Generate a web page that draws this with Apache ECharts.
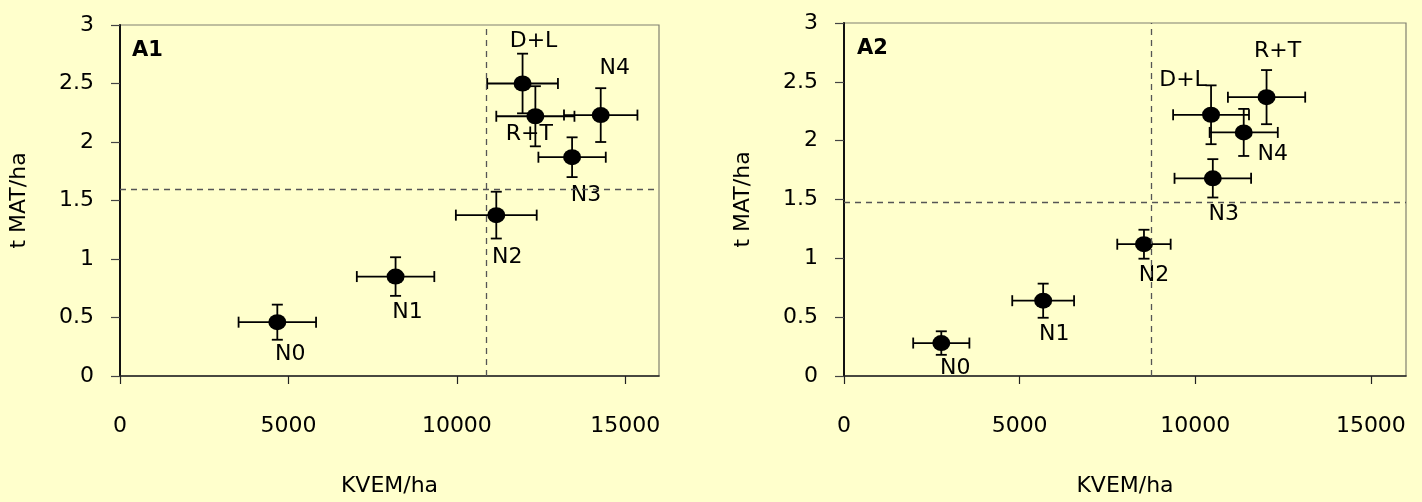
<!DOCTYPE html>
<html>
<head>
<meta charset="utf-8">
<script src="https://cdn.jsdelivr.net/npm/echarts@6/dist/echarts.min.js"></script>
<style>
html,body{margin:0;padding:0;background:#FFFFCC;}
#c{width:1422px;height:502px;}
</style>
</head>
<body>
<div id="c"></div>
<script>
// ---- data ----
const categories = ['N0', 'N1', 'N2', 'N3', 'N4', 'D+L', 'R+T'];

const a1X    = [4670, 8180, 11170, 13420, 14270, 11950, 12330];
const a1Y    = [0.46, 0.85, 1.375, 1.87, 2.23, 2.50, 2.22];
const a1XErr = [1150, 1150, 1200, 1000, 1090, 1050, 1160];
const a1YErr = [0.15, 0.165, 0.20, 0.17, 0.23, 0.255, 0.257];
const a1RefX = 10860;
const a1RefY = 1.605;

const a2X    = [2770, 5670, 8540, 10500, 11380, 10450, 12030];
const a2Y    = [0.28, 0.64, 1.12, 1.68, 2.07, 2.22, 2.37];
const a2XErr = [800, 880, 760, 1090, 970, 1080, 1100];
const a2YErr = [0.10, 0.145, 0.123, 0.163, 0.20, 0.25, 0.23];
const a2RefX = 8740;
const a2RefY = 1.475;

const xTickValues = [0, 5000, 10000, 15000];
const yTickValues = [0, 0.5, 1, 1.5, 2, 2.5, 3];
const panelTitles = ['A1', 'A2'];
const xName = 'KVEM/ha';
const yName = 't MAT/ha';

// ---- label placement (layout, not data) ----
const a1LabelOffsets = [[13, 32], [12, 36], [11, 42], [14, 38], [14, -47], [11, -42], [-6, 18]];
const a2LabelOffsets = [[14, 25], [11, 34], [10, 31], [11, 36], [29, 22], [-28, -34], [11, -46]];

const FONT = "'Comic Sans MS', 'DejaVu Sans', sans-serif";

function errData(xs, ys, exs, eys) {
  return xs.map((x, i) => [x, ys[i], exs[i], eys[i]]);
}
function ptData(xs, ys, offs) {
  return xs.map((x, i) => ({
    name: categories[i],
    value: [x, ys[i]],
    label: { offset: offs[i] }
  }));
}
function renderErr(params, api) {
  const x = api.value(0), y = api.value(1), ex = api.value(2), ey = api.value(3);
  const l = api.coord([x - ex, y]);
  const r = api.coord([x + ex, y]);
  const t = api.coord([x, y + ey]);
  const b = api.coord([x, y - ey]);
  const cap = 5.5;
  const st = { stroke: '#000', lineWidth: 1.8 };
  const ln = (x1, y1, x2, y2) => ({ type: 'line', shape: { x1, y1, x2, y2 }, style: st });
  return {
    type: 'group',
    children: [
      ln(l[0], l[1], r[0], r[1]),
      ln(l[0], l[1] - cap, l[0], l[1] + cap),
      ln(r[0], r[1] - cap, r[0], r[1] + cap),
      ln(t[0], t[1], b[0], b[1]),
      ln(t[0] - cap, t[1], t[0] + cap, t[1]),
      ln(b[0] - cap, b[1], b[0] + cap, b[1])
    ]
  };
}

const grids = [
  { left: 120, top: 25, width: 539, height: 359 },
  { left: 844, top: 23, width: 562, height: 361 }
];

function xAxisCfg(i) {
  return {
    type: 'value', gridIndex: i, min: 0, max: 16000, interval: 5000,
    name: xName, nameLocation: 'middle', nameGap: 99,
    nameTextStyle: { fontFamily: FONT, fontSize: 22, color: '#000' },
    axisLine: { show: true, lineStyle: { color: '#222', width: 1.6 } },
    axisTick: { show: true, length: 8, customValues: xTickValues, lineStyle: { color: '#222', width: 1.2 } },
    axisLabel: {
      customValues: xTickValues, margin: 39, fontFamily: FONT, fontSize: 22, color: '#000',
      formatter: v => String(v)
    },
    splitLine: { show: false }
  };
}
function yAxisCfg(i) {
  return {
    type: 'value', gridIndex: i, min: 0, max: 3, interval: 0.5,
    name: yName, nameLocation: 'middle', nameGap: 90, nameRotate: 90,
    nameTextStyle: { fontFamily: FONT, fontSize: 22, color: '#000' },
    axisLine: { show: true, lineStyle: { color: '#111', width: 2 } },
    axisTick: { show: true, length: 9, customValues: yTickValues, lineStyle: { color: '#444', width: 1.2 } },
    axisLabel: {
      customValues: yTickValues, margin: 26, fontFamily: FONT, fontSize: 22, color: '#000',
      formatter: v => String(v)
    },
    splitLine: { show: false }
  };
}
function refLines(rx, ry) {
  return {
    symbol: 'none', silent: true, animation: false,
    label: { show: false },
    lineStyle: { type: [6, 5], color: '#555', width: 1.3 },
    data: [{ xAxis: rx }, { yAxis: ry }]
  };
}
function panelSeries(i, xs, ys, exs, eys, offs, rx, ry) {
  return [
    {
      type: 'custom', xAxisIndex: i, yAxisIndex: i, z: 3,
      renderItem: renderErr,
      data: errData(xs, ys, exs, eys),
      silent: true, animation: false
    },
    {
      type: 'scatter', xAxisIndex: i, yAxisIndex: i, z: 4,
      symbol: 'circle', symbolSize: [18, 16],
      itemStyle: { color: '#000', opacity: 1 },
      label: {
        show: true, position: 'inside', formatter: '{b}',
        fontFamily: FONT, fontSize: 22, color: '#000'
      },
      data: ptData(xs, ys, offs),
      markLine: refLines(rx, ry),
      animation: false
    }
  ];
}

const chart = echarts.init(document.getElementById('c'), null, { renderer: 'canvas' });
chart.setOption({
  backgroundColor: '#FFFFCC',
  animation: false,
  grid: grids.map(g => Object.assign({ show: true, borderColor: '#808070', borderWidth: 1.2, backgroundColor: 'transparent' }, g)),
  xAxis: [xAxisCfg(0), xAxisCfg(1)],
  yAxis: [yAxisCfg(0), yAxisCfg(1)],
  title: [
    { text: panelTitles[0], left: 127, top: 35, textStyle: { fontFamily: FONT, fontSize: 21, fontWeight: 'bold', color: '#000' } },
    { text: panelTitles[1], left: 852, top: 33, textStyle: { fontFamily: FONT, fontSize: 21, fontWeight: 'bold', color: '#000' } }
  ],
  series: [].concat(
    panelSeries(0, a1X, a1Y, a1XErr, a1YErr, a1LabelOffsets, a1RefX, a1RefY),
    panelSeries(1, a2X, a2Y, a2XErr, a2YErr, a2LabelOffsets, a2RefX, a2RefY)
  )
});
</script>
</body>
</html>
